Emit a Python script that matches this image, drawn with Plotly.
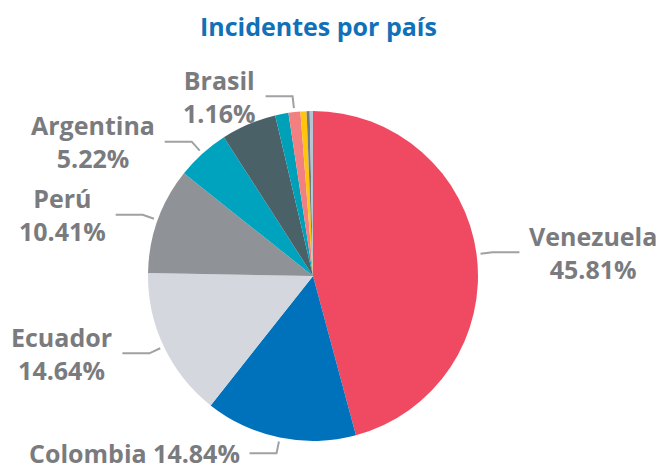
import math
import plotly.graph_objects as go

# ---- data ----
countries = ["Venezuela", "Colombia", "Ecuador", "Perú", "Argentina",
             "Otro 1", "Otro 2", "Brasil", "Otro 3", "Otro 4", "Otro 5"]
shares = [45.81, 14.84, 14.64, 10.41, 5.22, 5.40, 1.30, 1.16, 0.60, 0.30, 0.32]
labeled = ["Venezuela", "Colombia", "Ecuador", "Perú", "Argentina", "Brasil"]
single_line = ["Colombia"]
colors = ["#EF4A62", "#0071BB", "#D5D7DF", "#8F9296", "#00A3BE",
          "#4B6168", "#00A0B9", "#F28080", "#FFC40C", "#6E7B85", "#B3C5D3"]

# ---- layout geometry (page pixels; the page body has an 8px margin) ----
OFF = 8
W, H = 667 - OFF, 470 - OFF
CX, CY, R = 313 - OFF, 276 - OFF, 165
TEXT_COLOR = "#7A7B7E"
LINE_COLOR = "#A0A1A4"
FONT = "Open Sans"

fig = go.Figure(go.Pie(
    labels=countries,
    values=shares,
    sort=False,
    direction="clockwise",
    rotation=0,
    marker=dict(colors=colors, line=dict(width=0)),
    textinfo="none",
    hoverinfo="label+percent",
    domain=dict(x=[(CX - R) / W, (CX + R) / W],
                y=[1 - (CY + R) / H, 1 - (CY - R) / H]),
    showlegend=False,
))

def px(x):
    return x / W

def py(y):
    return 1 - y / H

total = sum(shares)
cum = 0.0
annotations = []
shapes = []
for name, v in zip(countries, shares):
    mid = (cum + v / 2) / total * 2 * math.pi
    cum += v
    if name not in labeled:
        continue
    dx, dy = math.sin(mid), -math.cos(mid)
    p0 = (CX + (R + 4) * dx, CY + (R + 4) * dy)
    p1 = (CX + (R + 16) * dx, CY + (R + 16) * dy)
    sgn = 1 if dx > 0 else -1
    p2 = (p1[0] + sgn * 27, p1[1])
    path = "M {} {} L {} {} L {} {}".format(px(p0[0]), py(p0[1]), px(p1[0]), py(p1[1]),
                                             px(p2[0]), py(p2[1]))
    shapes.append(dict(type="path", path=path, xref="paper", yref="paper",
                       line=dict(color=LINE_COLOR, width=2)))
    pct = "{:.2f}%".format(v)
    text = f"{name} {pct}" if name in single_line else f"{name}<br>{pct}"
    annotations.append(dict(
        x=px(p2[0] + sgn * 8), y=py(p2[1]), xref="paper", yref="paper",
        text=text, showarrow=False, align="center",
        xanchor="left" if sgn > 0 else "right", yanchor="middle",
        font=dict(family=FONT, size=25, color=TEXT_COLOR, weight="bold"),
    ))

annotations.append(dict(
    x=(318 - OFF) / W, y=py(26 - OFF), xref="paper", yref="paper",
    text="<b>Incidentes por país</b>", showarrow=False,
    xanchor="center", yanchor="middle",
    font=dict(family=FONT, size=25, color="#1170B8"),
))

fig.update_layout(
    width=W, height=H,
    margin=dict(l=0, r=0, t=0, b=0),
    paper_bgcolor="white", plot_bgcolor="white",
    annotations=annotations, shapes=shapes,
)

fig.write_html("out.html")
